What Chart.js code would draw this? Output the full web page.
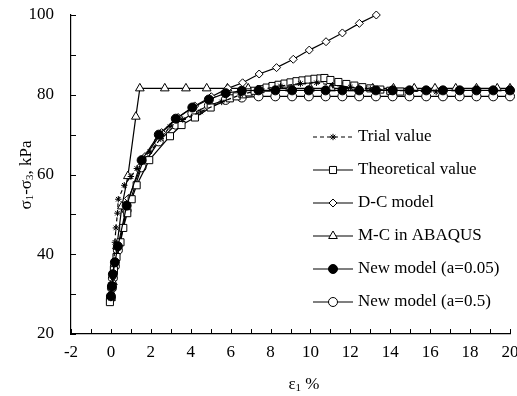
<!DOCTYPE html>
<html>
<head>
<meta charset="utf-8">
<script src="https://cdn.jsdelivr.net/npm/chart.js@4.4.1/dist/chart.umd.min.js"></script>
<style>
html, body { margin: 0; padding: 0; background: #fff; }
#wrap { width: 517px; height: 396px; }
</style>
</head>
<body>
<div id="wrap"><canvas id="c"></canvas></div>
<script>
// values (strain %, deviator stress kPa)
const trialX = [0, 0.05, 0.1, 0.15, 0.2, 0.25, 0.33, 0.37, 0.67, 1.0, 1.3, 1.95, 2.5, 2.96, 3.6, 4.5, 5.55, 6.5, 7.5, 8.5, 9.5, 10.3, 11.1, 12.0, 13.0, 14.0, 15.0, 16.3];
const trialY = [29, 31, 34, 38, 43, 46.6, 50.3, 53.8, 57.3, 59.5, 61.5, 65.7, 69, 72, 73.8, 75.7, 78.2, 80, 81.3, 82.2, 82.8, 83, 82.4, 81.9, 81.5, 81.2, 80.9, 80.7];

const theoX = [-0.05, 0.05, 0.15, 0.28, 0.48, 0.62, 0.82, 1.04, 1.29, 1.92, 2.96, 3.54, 4.21, 5.0, 5.96, 6.3, 6.6, 6.9, 7.2, 7.5, 7.8, 8.1, 8.4, 8.7, 9.0, 9.3, 9.6, 9.9, 10.2, 10.5, 10.7, 11.0, 11.4, 11.8, 12.2, 12.6, 13.0, 13.5, 14.0, 14.5];
const theoY = [28, 32, 36, 39.3, 43, 46.6, 50.3, 53.8, 57.3, 63.6, 69.6, 72.4, 74.3, 76.8, 79.1, 79.6, 80.1, 80.6, 81.0, 81.4, 81.8, 82.2, 82.5, 82.8, 83.1, 83.4, 83.6, 83.8, 84.0, 84.1, 84.2, 83.7, 83.2, 82.7, 82.3, 81.9, 81.6, 81.3, 81.0, 80.8];

const dcX = [0, 0.05, 0.88, 1.71, 2.54, 3.37, 4.2, 5.03, 5.86, 6.6, 7.43, 8.3, 9.14, 9.94, 10.78, 11.6, 12.45, 13.3];
const dcY = [28.5, 32, 54, 64.5, 70.5, 74.3, 77.2, 79.5, 81.6, 83, 85.2, 86.8, 88.9, 91.2, 93.3, 95.5, 97.9, 100];

const mcX = [0, 0.1, 0.3, 0.55, 0.85, 1.25, 1.45, 2.7, 3.76, 4.8, 5.84, 6.88, 7.92, 8.96, 10.0, 11.04, 12.08, 13.12, 14.16, 15.2, 16.24, 17.28, 18.32, 19.36, 20.0];
const mcY = [29, 33, 42, 52, 59.6, 74.5, 81.6, 81.6, 81.6, 81.6, 81.6, 81.6, 81.6, 81.6, 81.6, 81.6, 81.6, 81.6, 81.6, 81.6, 81.6, 81.6, 81.6, 81.6, 81.6];

const newX = [0, 0.05, 0.1, 0.2, 0.35, 0.79, 1.54, 2.4, 3.25, 4.08, 4.91, 5.75, 6.56, 7.4, 8.24, 9.08, 9.92, 10.76, 11.6, 12.44, 13.28, 14.12, 14.96, 15.8, 16.64, 17.48, 18.32, 19.16, 20.0];
const new005Y = [29.5, 32, 35, 38, 42, 52.2, 63.6, 70, 74, 76.8, 78.8, 80.4, 81, 81.1, 81.1, 81.1, 81.1, 81.1, 81.1, 81.1, 81.1, 81.1, 81.1, 81.1, 81.1, 81.1, 81.1, 81.1, 81.1];
const new05Y = [29, 31.5, 34, 37, 41, 51, 61.8, 68.3, 72.5, 75.3, 77.3, 78.7, 79.3, 79.6, 79.6, 79.6, 79.6, 79.6, 79.6, 79.6, 79.6, 79.6, 79.6, 79.6, 79.6, 79.6, 79.6, 79.6, 79.6];

const xTicks = [-2, 20, 1];   // min, max, step (labels every 2)
const yTicks = [20, 100, 10]; // labels every 20

const FONT = '"Liberation Serif", "Times New Roman", serif';

function pts(xs, ys) {
    return xs.map((x, i) => ({ x: x, y: ys[i] }));
}

function series(label, xs, ys, style, radius, fill, dash) {
    return {
        label: label,
        data: pts(xs, ys),
        borderColor: '#000',
        borderWidth: 1.2,
        borderDash: dash || [],
        pointStyle: style,
        pointRadius: radius,
        pointBorderColor: '#000',
        pointBackgroundColor: fill,
        pointBorderWidth: 1,
        showLine: true,
        tension: 0,
        clip: false
    };
}

const datasets = [
    series('New model (a=0.05)', newX, new005Y, 'circle', 4.5, '#000'),
    series('Trial value', trialX, trialY, 'star', 3.2, '#000', [4, 3]),
    series('Theoretical value', theoX, theoY, 'rect', 5, '#fff'),
    series('D-C model', dcX, dcY, 'rectRot', 4, '#fff'),
    series('M-C in ABAQUS', mcX, mcY, 'triangle', 5, '#fff'),
    series('New model (a=0.5)', newX, new05Y, 'circle', 4.5, '#fff')
];
const legendOrder = ['Trial value', 'Theoretical value', 'D-C model', 'M-C in ABAQUS', 'New model (a=0.05)', 'New model (a=0.5)'];

// inside tick marks, legend box and axis titles with subscripts
const decorations = {
    id: 'decorations',
    afterDraw(chart) {
        const ctx = chart.ctx;
        const xs = chart.scales.x, ys = chart.scales.y;
        const area = chart.chartArea;
        ctx.save();
        ctx.strokeStyle = '#000';
        ctx.lineWidth = 1;
        ctx.beginPath();
        for (let v = xTicks[0]; v <= xTicks[1]; v += xTicks[2]) {
            const px = Math.round(xs.getPixelForValue(v)) + 0.5;
            ctx.moveTo(px, area.bottom);
            ctx.lineTo(px, area.bottom - 5);
        }
        for (let v = yTicks[0]; v <= yTicks[1]; v += yTicks[2]) {
            const py = Math.round(ys.getPixelForValue(v)) + 0.5;
            ctx.moveTo(area.left, py);
            ctx.lineTo(area.left + 5, py);
        }
        ctx.stroke();

        // legend
        let ly = 137;
        legendOrder.forEach(name => {
            const ds = chart.data.datasets.find(d => d.label === name);
            ctx.strokeStyle = '#000';
            ctx.lineWidth = 1.2;
            ctx.setLineDash(ds.borderDash);
            ctx.beginPath();
            ctx.moveTo(313, ly);
            ctx.lineTo(353, ly);
            ctx.stroke();
            ctx.setLineDash([]);
            ctx.fillStyle = ds.pointBackgroundColor;
            ctx.lineWidth = 1;
            Chart.helpers.drawPoint(ctx, { pointStyle: ds.pointStyle, radius: ds.pointRadius, rotation: 0, borderWidth: 1 }, 333, ly);
            ctx.fillStyle = '#000';
            ctx.font = '17px ' + FONT;
            ctx.textBaseline = 'middle';
            ctx.textAlign = 'left';
            ctx.fillText(name, 358, ly);
            ly += 33;
        });

        // axis titles
        ctx.fillStyle = '#000';
        drawRuns(ctx, [['ε', 0], ['1', 1], [' %', 0]], 304, 385, 0);
        drawRuns(ctx, [['σ', 0], ['1', 1], ['-σ', 0], ['3', 1], [', kPa', 0]], 27, 175, -Math.PI / 2);
        ctx.restore();
    }
};

function drawRuns(ctx, runs, cx, cy, rot) {
    const big = '17px ' + FONT, small = '11px ' + FONT;
    let w = 0;
    runs.forEach(r => { ctx.font = r[1] ? small : big; w += ctx.measureText(r[0]).width; });
    ctx.save();
    ctx.translate(cx, cy);
    ctx.rotate(rot);
    ctx.textBaseline = 'middle';
    ctx.textAlign = 'left';
    let x = -w / 2;
    runs.forEach(r => {
        ctx.font = r[1] ? small : big;
        ctx.fillText(r[0], x, r[1] ? 3 : 0);
        x += ctx.measureText(r[0]).width;
    });
    ctx.restore();
}

new Chart(document.getElementById('c'), {
    type: 'scatter',
    data: { datasets: datasets },
    options: {
        responsive: true,
        maintainAspectRatio: false,
        animation: false,
        devicePixelRatio: 1,
        layout: { padding: { left: 0, right: 7, top: 15, bottom: 0 } },
        plugins: { legend: { display: false }, tooltip: { enabled: false } },
        scales: {
            x: {
                type: 'linear',
                min: xTicks[0], max: xTicks[1],
                ticks: {
                    stepSize: xTicks[2],
                    autoSkip: false,
                    maxRotation: 0,
                    padding: 8,
                    color: '#000',
                    font: { family: FONT, size: 17 },
                    callback: v => (v % 2 === 0 ? String(v) : '')
                },
                grid: { display: true, drawOnChartArea: false, drawTicks: false },
                border: { display: true, color: '#000', width: 1.2 },
                afterFit: s => { s.height = 62; s.paddingLeft = 0; s.paddingRight = 0; }
            },
            y: {
                type: 'linear',
                min: yTicks[0], max: yTicks[1],
                ticks: {
                    stepSize: yTicks[2],
                    autoSkip: false,
                    padding: 17,
                    color: '#000',
                    font: { family: FONT, size: 17 },
                    callback: v => (v % 20 === 0 ? String(v) : '')
                },
                grid: { display: true, drawOnChartArea: false, drawTicks: false },
                border: { display: true, color: '#000', width: 1.2 },
                afterFit: s => { s.width = 71; s.paddingTop = 0; s.paddingBottom = 0; }
            }
        }
    },
    plugins: [decorations]
});
</script>
</body>
</html>
